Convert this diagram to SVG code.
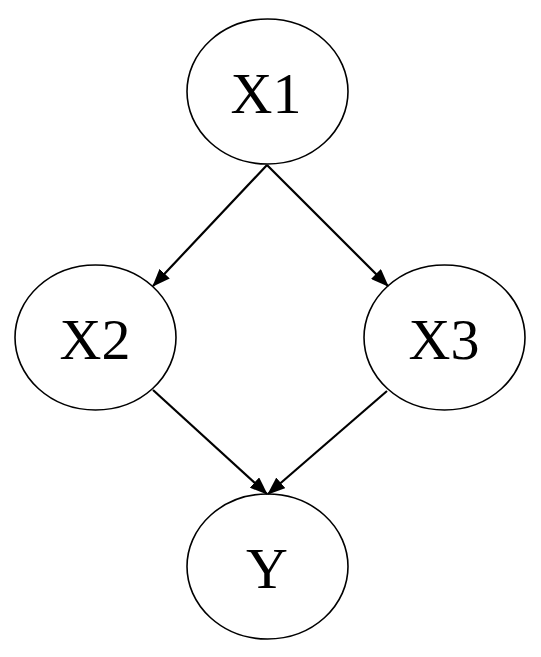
<svg xmlns="http://www.w3.org/2000/svg" width="541" height="657" viewBox="0 0 541 657">
<style>
.node ellipse{fill:#fff;stroke:#000;stroke-width:1.6}
.node text{font-family:"Liberation Serif","Times New Roman",serif;font-size:58px;text-anchor:middle;fill:#000}
.edge{stroke:#000;stroke-width:2.2;fill:none;marker-end:url(#ah)}
</style>
<defs>
<marker id="ah" viewBox="0 0 18 14" refX="17" refY="7" markerWidth="18" markerHeight="14" markerUnits="userSpaceOnUse" orient="auto">
<path d="M0,0 L18,7 L0,14 z" fill="#000"/>
</marker>
</defs>
<rect width="541" height="657" fill="#fff"/>
<g id="X1" class="node"><ellipse cx="267.5" cy="91.5" rx="80.5" ry="72.5"/><text x="266" y="113">X1</text></g>
<g id="X2" class="node"><ellipse cx="95.5" cy="337.5" rx="80.5" ry="72.5"/><text x="95" y="359">X2</text></g>
<g id="X3" class="node"><ellipse cx="444.5" cy="337.5" rx="80.5" ry="72.5"/><text x="444" y="359">X3</text></g>
<g id="Y" class="node"><ellipse cx="267.5" cy="566.5" rx="80.5" ry="72.5"/><text x="267" y="588">Y</text></g>
<g id="edges">
<line class="edge" x1="267" y1="165" x2="153" y2="286"/>
<line class="edge" x1="267" y1="165" x2="388" y2="286"/>
<line class="edge" x1="153" y1="390" x2="267" y2="494"/>
<line class="edge" x1="387" y1="391" x2="268" y2="494"/>
</g>
</svg>
